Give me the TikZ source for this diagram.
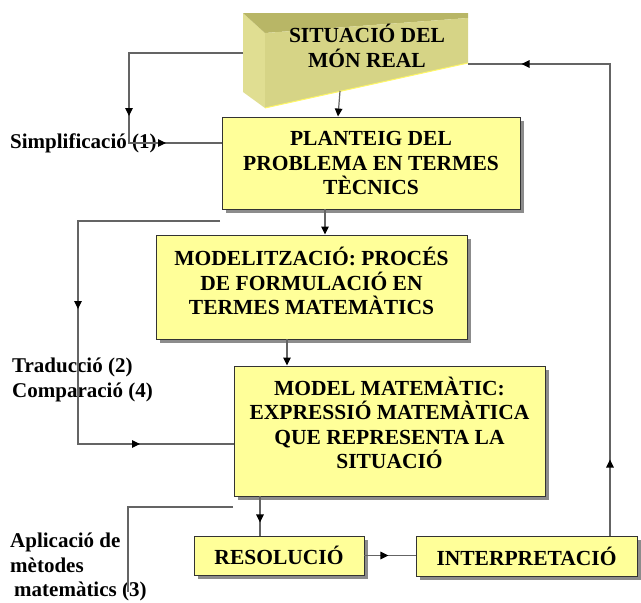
\documentclass[tikz,border=0pt]{standalone}
\usepackage{fontspec}
\setmainfont{Liberation Serif}
\usetikzlibrary{arrows.meta,decorations.markings,shadows}
\definecolor{boxfill}{RGB}{255,255,153}
\definecolor{linegray}{RGB}{100,100,100}
\definecolor{front}{RGB}{214,212,134}
\definecolor{side}{RGB}{224,222,146}
\definecolor{topf}{RGB}{184,182,102}
\tikzset{
  yb/.style={draw=black!80, line width=0.9pt, fill=boxfill, inner sep=0pt,
    drop shadow={shadow xshift=3.5pt, shadow yshift=-3.5pt, fill=black!45, opacity=1}},
  btxt/.style={font=\fontsize{21.5}{24.5}\selectfont\bfseries, align=center, inner sep=0pt},
  ltxt/.style={font=\fontsize{21}{24.5}\selectfont\bfseries, align=left, inner sep=0pt, anchor=west},
  conn/.style={draw=linegray, line width=1.2pt},
  tip/.style={-{Triangle[length=8pt,width=7.5pt,color=black]}},
  midarrow/.style={postaction={decorate,decoration={markings,
     mark=at position #1 with {\arrow[black]{Triangle[length=8pt,width=7.5pt]}}}}},
  midarrowb/.style 2 args={postaction={decorate,decoration={markings,
     mark=at position #1 with {\arrow[black]{Triangle[length=8pt,width=7.5pt]}},
     mark=at position #2 with {\arrow[black]{Triangle[length=8pt,width=7.5pt]}}}}}
}
\begin{document}
\begin{tikzpicture}[x=1pt,y=-1pt]
\useasboundingbox (0,0) rectangle (641,603);
% 3D box "SITUACIO DEL MON REAL"
\fill[side] (243,13) -- (265,33) -- (265,108) -- (243,92) -- cycle;
\fill[topf] (243,13) -- (468,13) -- (468,18) -- (265,33) -- cycle;
\fill[front] (265,33) -- (468,18) -- (468,63) -- (265,108) -- cycle;
\draw[yellow!60!white, line width=1pt] (265,108) -- (468,63);
\node[btxt] (world) at (367,46) {SITUACIÓ DEL\\MÓN REAL};
\coordinate (worldleft) at (243,53);
\coordinate (worldbottom) at (340,91);
\coordinate (worldright) at (468,64);

% boxes
\node[yb, minimum width=298pt, minimum height=92pt, btxt] (planteig) at (371,163)
  {PLANTEIG DEL\\PROBLEMA EN TERMES\\TÈCNICS};
\node[yb, minimum width=311pt, minimum height=104pt] (modelit) at (311.5,287) {};
\node[btxt] (modelittxt) at (311.5,281) {MODELITZACIÓ: PROCÉS\\DE FORMULACIÓ EN\\TERMES MATEMÀTICS};
\node[yb, minimum width=311pt, minimum height=130pt] (model) at (389.5,431) {};
\node[btxt] (modeltxt) at (389.5,423) {MODEL MATEMÀTIC:\\EXPRESSIÓ MATEMÀTICA\\QUE REPRESENTA LA\\SITUACIÓ};
\node[yb, minimum width=170pt, minimum height=39pt, btxt] (resol) at (279,555.5) {RESOLUCIÓ};
\node[yb, minimum width=221pt, minimum height=40pt, btxt] (interp) at (526.5,556) {INTERPRETACIÓ};

% labels
\node[ltxt] (simp) at (10,143) {Simplificació (1)};
\node[ltxt] (trad) at (12,380) {Traducció (2)\\Comparació (4)};
\node[ltxt] (apl) at (10,567) {Aplicació de\\mètodes\\\hspace*{4pt}matemàtics (3)};

% corner coordinates
\coordinate (c1) at (129,53);
\coordinate (c2) at (129,143);
\coordinate (f2) at (220,221);
\coordinate (c3) at (78,221);
\coordinate (c4) at (78,444);
\coordinate (f3) at (233,507);
\coordinate (c5) at (128,507);
\coordinate (e3) at (128,592);
\coordinate (c6) at (610,64);
\coordinate (xa) at (338,0);
\coordinate (xb) at (325,0);
\coordinate (xc) at (287,0);
\coordinate (xd) at (260,0);
\coordinate (xe) at (610,0);

% connectors
\draw[conn, midarrowb={177pt}{241pt}] (worldleft) -- (c1) -- (c2) -- (c2 -| planteig.west);
\draw[conn, tip] (worldbottom) -- (planteig.north -| xa);
\draw[conn, tip] (planteig.south -| xb) -- (modelit.north -| xb);
\draw[conn, midarrowb={230pt}{427pt}] (f2) -- (c3) -- (c4) -- (c4 -| model.west);
\draw[conn, tip] (modelit.south -| xc) -- (model.north -| xc);
\draw[conn] (f3) -- (c5) -- (e3);
\draw[conn, midarrow={26pt}] (model.south -| xd) -- (resol.north -| xd);
\draw[conn, midarrow={24pt}] (resol.east) -- (resol.east -| interp.west);
\draw[conn, midarrowb={76pt}{560pt}] (interp.north -| xe) -- (c6) -- (worldright);
\end{tikzpicture}
\end{document}
